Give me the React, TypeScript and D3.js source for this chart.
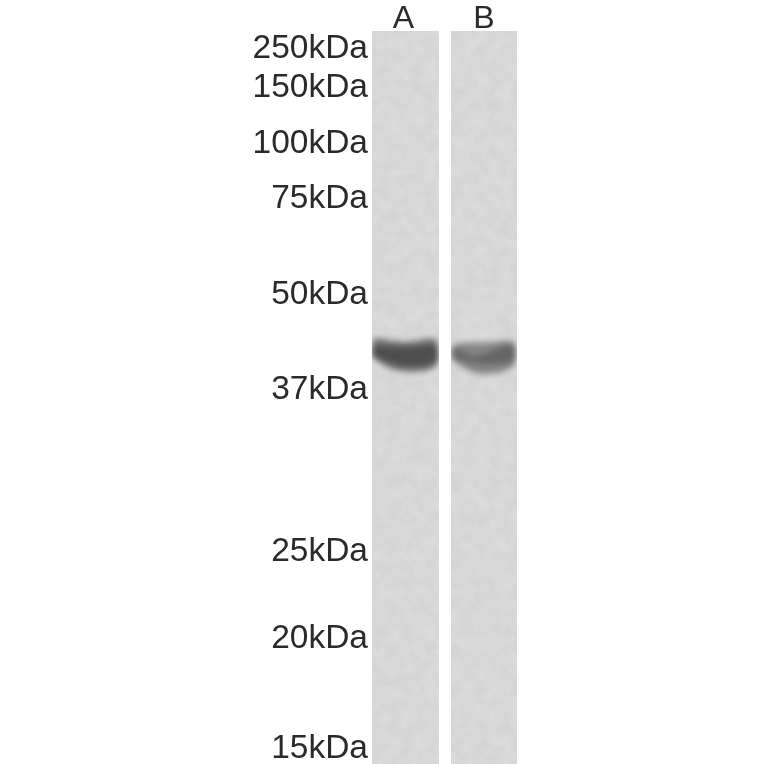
import React, { useEffect, useRef } from 'react';
import * as d3 from 'd3';

const markerLabels = ['250kDa', '150kDa', '100kDa', '75kDa', '50kDa', '37kDa', '25kDa', '20kDa', '15kDa'];
const markerSizes = [250, 150, 100, 75, 50, 37, 25, 20, 15];
const laneNames = ['A', 'B'];

// position across the lane, 0 = left edge and 1 = right edge
const bandAcross = [0, 0.12, 0.3, 0.5, 0.7, 0.88, 1];
// band edges in kDa
const laneATop = [43.3, 43.3, 43.0, 42.8, 43.0, 43.3, 43.2];
const laneABottom = [40.8, 40.1, 39.3, 39.0, 39.0, 39.2, 39.8];
const laneACoreTop = [42.3, 42.3, 42.1, 42.1, 42.2, 42.4, 42.2];
const laneACoreBottom = [41.1, 40.6, 40.0, 39.7, 39.7, 39.9, 40.4];
const laneBTop = [42.4, 42.6, 42.7, 42.7, 42.8, 43.0, 42.8];
const laneBBottom = [40.6, 39.8, 39.0, 38.7, 38.8, 39.2, 39.9];
const laneBCoreTop = [41.8, 41.7, 40.9, 41.1, 41.9, 42.3, 42.0];
const laneBCoreBottom = [40.9, 40.5, 40.2, 40.0, 40.0, 40.1, 40.6];

const App: React.FC = () => {
    const svgRef = useRef<SVGSVGElement>(null);

    useEffect(() => {
        if (!svgRef.current) return;

        const svg = d3.select(svgRef.current);
        svg.selectAll("*").remove();

        const width = 764;
        const height = 764;
        const laneTop = 31;

        // Marker ladder is not straight on a log axis, so calibrate on every marker
        const yScale = d3.scaleLog()
            .domain(markerSizes)
            .range([47, 86, 142, 197, 293, 388, 550, 637, 747]);

        const xLane = d3.scaleOrdinal<string, number>().domain(laneNames).range([372, 451]);
        const laneWidth = d3.scaleOrdinal<string, number>().domain(laneNames).range([67, 66]);

        const defs = svg.append("defs");

        const grain = defs.append("filter").attr("id", "grain")
            .attr("x", 0).attr("y", 0).attr("width", 1).attr("height", 1);
        grain.append("feTurbulence")
            .attr("type", "fractalNoise")
            .attr("baseFrequency", 0.08)
            .attr("numOctaves", 3)
            .attr("seed", 7)
            .attr("result", "noise");
        grain.append("feColorMatrix")
            .attr("in", "noise")
            .attr("type", "matrix")
            .attr("values", "0 0 0 0 0  0 0 0 0 0  0 0 0 0 0  0.14 0 0 0 -0.05")
            .attr("result", "speck");
        grain.append("feComposite")
            .attr("in", "speck")
            .attr("in2", "SourceGraphic")
            .attr("operator", "in")
            .attr("result", "clipped");
        grain.append("feMerge").selectAll("feMergeNode")
            .data(["SourceGraphic", "clipped"])
            .enter().append("feMergeNode")
            .attr("in", d => d);

        defs.append("filter").attr("id", "soft")
            .append("feGaussianBlur").attr("stdDeviation", 0.6);
        defs.append("filter").attr("id", "bandBlur")
            .attr("x", "-10%").attr("y", "-60%").attr("width", "120%").attr("height", "220%")
            .append("feGaussianBlur").attr("stdDeviation", 3);
        defs.append("filter").attr("id", "coreBlur")
            .attr("x", "-10%").attr("y", "-80%").attr("width", "120%").attr("height", "260%")
            .append("feGaussianBlur").attr("stdDeviation", 3);

        svg.append("rect")
            .attr("width", width)
            .attr("height", height)
            .attr("fill", "#ffffff");

        // Lanes
        laneNames.forEach(name => {
            svg.append("rect")
                .attr("x", xLane(name))
                .attr("y", laneTop)
                .attr("width", laneWidth(name))
                .attr("height", height - laneTop)
                .attr("fill", "#dadada")
                .attr("filter", "url(#grain)");

            defs.append("clipPath").attr("id", `clip-${name}`)
                .append("rect")
                .attr("x", xLane(name))
                .attr("y", laneTop)
                .attr("width", laneWidth(name))
                .attr("height", height - laneTop);
        });

        // Bands
        const drawBand = (name: string, top: number[], bottom: number[], fill: string, blur: string, opacity: number) => {
            const x = d3.scaleLinear().domain([0, 1])
                .range([xLane(name) + 1, xLane(name) + laneWidth(name) - 2]);
            const area = d3.area<number>()
                .x(d => x(d))
                .y0((_, i) => yScale(top[i]))
                .y1((_, i) => yScale(bottom[i]))
                .curve(d3.curveCatmullRom);

            svg.append("g")
                .attr("clip-path", `url(#clip-${name})`)
                .append("path")
                .datum(bandAcross)
                .attr("d", area)
                .attr("fill", fill)
                .attr("opacity", opacity)
                .attr("filter", `url(#${blur})`);
        };

        drawBand("A", laneATop, laneABottom, "#6e6e6e", "bandBlur", 0.95);
        drawBand("A", laneACoreTop, laneACoreBottom, "#464646", "coreBlur", 0.85);
        drawBand("B", laneBTop, laneBBottom, "#808080", "bandBlur", 0.95);
        drawBand("B", laneBCoreTop, laneBCoreBottom, "#505050", "coreBlur", 0.6);

        // Marker labels
        svg.append("g")
            .attr("filter", "url(#soft)")
            .selectAll("text")
            .data(markerLabels)
            .enter().append("text")
            .attr("x", 368)
            .attr("y", (_, i) => yScale(markerSizes[i]))
            .attr("dy", "0.34em")
            .attr("text-anchor", "end")
            .attr("font-family", "'Liberation Sans', Arial, sans-serif")
            .attr("font-size", 33.5)
            .attr("fill", "#2a2a2a")
            .text(d => d);

        // Lane names
        svg.append("g")
            .attr("filter", "url(#soft)")
            .selectAll("text")
            .data(laneNames)
            .enter().append("text")
            .attr("x", d => xLane(d) + laneWidth(d) / 2 - (d === "A" ? 2 : 0))
            .attr("y", 28)
            .attr("text-anchor", "middle")
            .attr("font-family", "'Liberation Sans', Arial, sans-serif")
            .attr("font-size", 32)
            .attr("fill", "#2a2a2a")
            .text(d => d);
    }, []);

    return <svg ref={svgRef} width={764} height={764} style={{ position: 'absolute', left: 0, top: 0 }}></svg>;
};

export default App;
